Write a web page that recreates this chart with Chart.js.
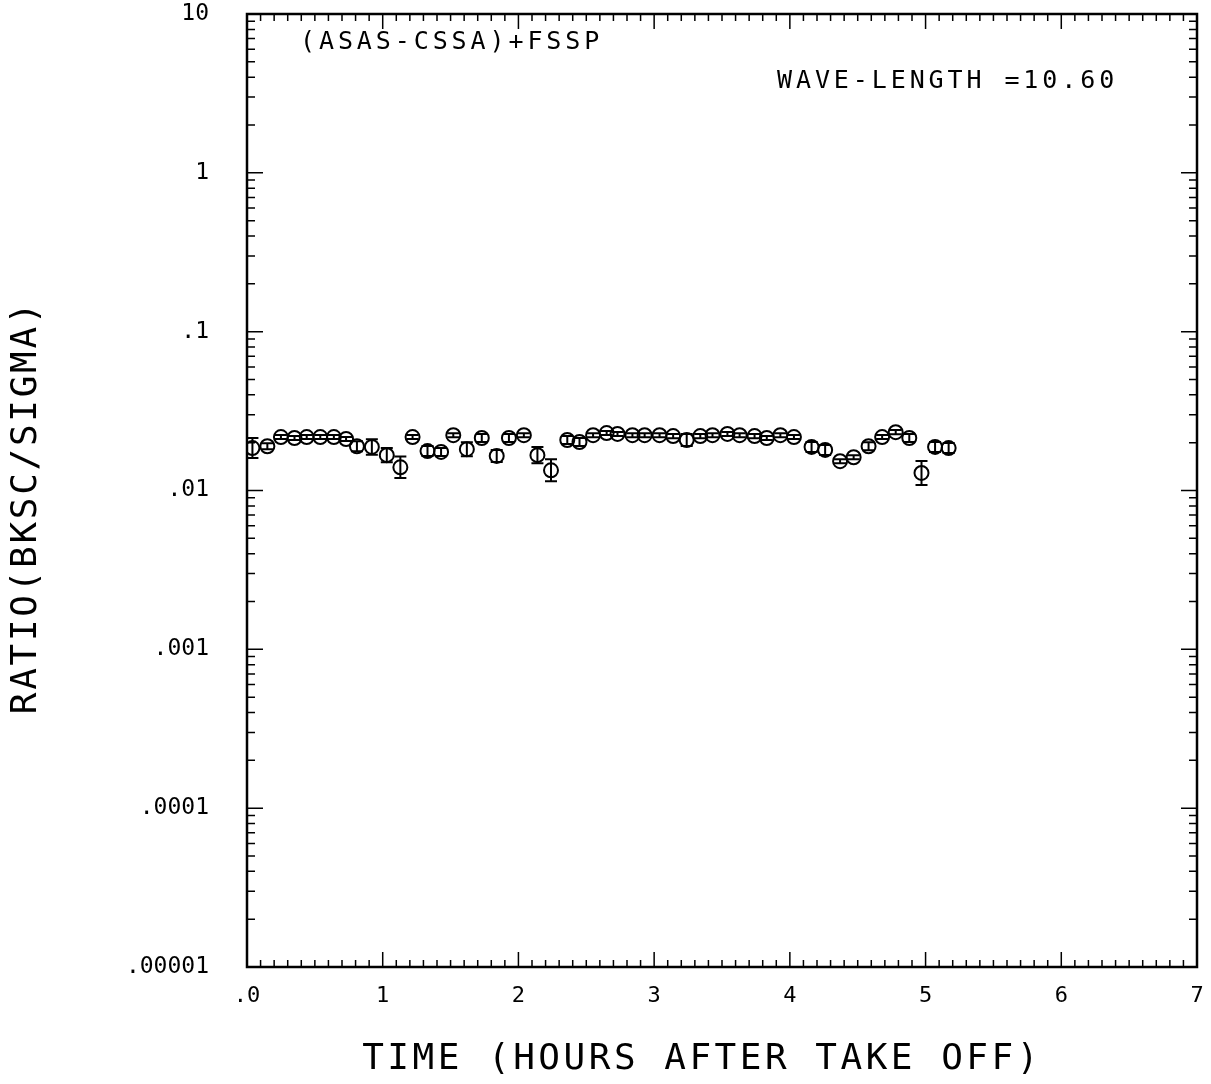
<!DOCTYPE html>
<html>
<head>
<meta charset="utf-8">
<script src="https://cdn.jsdelivr.net/npm/chart.js@4/dist/chart.umd.min.js"></script>
<style>
  html, body { margin: 0; padding: 0; background: #fff; }
  #wrap { width: 1211px; height: 1084px; position: relative; }
</style>
</head>
<body>
<div id="wrap"><canvas id="c"></canvas></div>
<script>
// values (time in hours, backscatter/sigma ratio)
const timeHours = [0.04, 0.15, 0.25, 0.35, 0.44, 0.54, 0.64, 0.73, 0.81, 0.92,
  1.03, 1.13, 1.22, 1.33, 1.43, 1.52, 1.62, 1.73, 1.84, 1.93,
  2.04, 2.14, 2.24, 2.36, 2.45, 2.55, 2.65, 2.73, 2.84, 2.93,
  3.04, 3.14, 3.24, 3.34, 3.43, 3.54, 3.63, 3.74, 3.83, 3.93,
  4.03, 4.16, 4.26, 4.37, 4.47, 4.58, 4.68, 4.78, 4.88, 4.97,
  5.07, 5.17];
const ratio = [0.0185, 0.0190, 0.0217, 0.0214, 0.0217, 0.0217, 0.0217, 0.0211, 0.0190, 0.0188,
  0.0167, 0.0140, 0.0217, 0.0177, 0.0175, 0.0223, 0.0182, 0.0214, 0.0165, 0.0214,
  0.0223, 0.0167, 0.0134, 0.0208, 0.0202, 0.0223, 0.0230, 0.0227, 0.0223, 0.0223,
  0.0223, 0.0220, 0.0208, 0.0220, 0.0223, 0.0227, 0.0223, 0.0220, 0.0214, 0.0223,
  0.0217, 0.0188, 0.0180, 0.0153, 0.0162, 0.0190, 0.0217, 0.0233, 0.0214, 0.0129,
  0.0188, 0.0185];
// multiplicative error bar half-width (upper = v*f, lower = v/f)
const errFactor = [1.156, 1.045, 1.03, 1.03, 1.03, 1.03, 1.03, 1.03, 1.075, 1.12,
  1.11, 1.17, 1.03, 1.075, 1.06, 1.03, 1.107, 1.06, 1.09, 1.06,
  1.03, 1.123, 1.173, 1.06, 1.06, 1.03, 1.03, 1.03, 1.03, 1.03,
  1.03, 1.03, 1.09, 1.03, 1.03, 1.03, 1.03, 1.03, 1.03, 1.03,
  1.03, 1.075, 1.075, 1.03, 1.03, 1.06, 1.03, 1.03, 1.06, 1.19,
  1.075, 1.075];

const xTicks = [0, 1, 2, 3, 4, 5, 6, 7];
const yTicks = [1e-5, 1e-4, 1e-3, 1e-2, 1e-1, 1, 10];
const yTickLabels = ['.00001', '.0001', '.001', '.01', '.1', '1', '10'];

const FONT = "'DejaVu Sans Mono', monospace";

function spacedText(ctx, text, x, y, size, spacing, align) {
  ctx.save();
  ctx.font = size + 'px ' + FONT;
  ctx.letterSpacing = spacing + 'px';
  ctx.fillStyle = '#000';
  ctx.textAlign = align || 'left';
  ctx.textBaseline = 'middle';
  ctx.fillText(text, x, y);
  ctx.restore();
}

const errorBars = {
  id: 'errorBars',
  afterDatasetsDraw(chart) {
    const { ctx, scales: { x, y } } = chart;
    ctx.save();
    ctx.strokeStyle = '#000';
    ctx.lineWidth = 2;
    timeHours.forEach((t, i) => {
      const px = x.getPixelForValue(t);
      const lo = y.getPixelForValue(ratio[i] / errFactor[i]);
      const hi = y.getPixelForValue(ratio[i] * errFactor[i]);
      ctx.beginPath();
      ctx.moveTo(px, lo); ctx.lineTo(px, hi);
      ctx.moveTo(px - 6, lo); ctx.lineTo(px + 6, lo);
      ctx.moveTo(px - 6, hi); ctx.lineTo(px + 6, hi);
      ctx.stroke();
    });
    ctx.restore();
  }
};

// frame, inward tick marks on all four sides, text labels
const frame = {
  id: 'frame',
  afterDraw(chart) {
    const { ctx, chartArea: a, scales: { x, y } } = chart;
    ctx.save();
    ctx.strokeStyle = '#000';
    ctx.lineWidth = 2.5;
    ctx.strokeRect(a.left, a.top, a.right - a.left, a.bottom - a.top);
    ctx.lineWidth = 1.5;
    ctx.beginPath();
    for (let k = 0; k <= 70; k++) {
      const px = x.getPixelForValue(k / 10);
      const len = k % 10 === 0 ? 15 : 7;
      ctx.moveTo(px, a.bottom); ctx.lineTo(px, a.bottom - len);
      ctx.moveTo(px, a.top); ctx.lineTo(px, a.top + len);
    }
    for (let e = -5; e <= 0; e++) {
      for (let m = 1; m <= 10; m++) {
        const py = y.getPixelForValue(m * Math.pow(10, e));
        const len = (m === 1 || m === 10) ? 16 : 8;
        ctx.moveTo(a.left, py); ctx.lineTo(a.left + len, py);
        ctx.moveTo(a.right, py); ctx.lineTo(a.right - len, py);
      }
    }
    ctx.stroke();
    ctx.restore();

    spacedText(ctx, '(ASAS-CSSA)+FSSP', a.left + 53, a.top + 28, 25, 3.9);
    spacedText(ctx, 'WAVE-LENGTH =10.60', a.left + 530, a.top + 67, 25, 3.9);
    spacedText(ctx, 'TIME (HOURS AFTER TAKE OFF)', 702, 1060, 36, 3.5, 'center');
    ctx.save();
    ctx.translate(27, 507);
    ctx.rotate(-Math.PI / 2);
    spacedText(ctx, 'RATIO(BKSC/SIGMA)', 0, 0, 36, 2.7, 'center');
    ctx.restore();
  }
};

new Chart(document.getElementById('c'), {
  type: 'scatter',
  data: {
    datasets: [{
      data: timeHours.map((t, i) => ({ x: t, y: ratio[i] })),
      pointStyle: 'circle',
      pointRadius: 7,
      pointBorderWidth: 2,
      borderColor: '#000',
      backgroundColor: 'rgba(0,0,0,0)',
      pointBackgroundColor: 'rgba(0,0,0,0)'
    }]
  },
  options: {
    responsive: true,
    maintainAspectRatio: false,
    animation: false,
    layout: { padding: { top: 14, right: 14, left: 0, bottom: 0 } },
    plugins: { legend: { display: false }, tooltip: { enabled: false } },
    scales: {
      x: {
        type: 'linear', min: 0, max: 7,
        afterBuildTicks: (s) => { s.ticks = xTicks.map((v) => ({ value: v })); },
        afterFit: (s) => { s.height = 117; s.paddingLeft = 0; s.paddingRight = 0; },
        grid: { display: false },
        border: { display: false },
        ticks: {
          autoSkip: false, maxRotation: 0, padding: 8,
          color: '#000', font: { family: FONT, size: 22 },
          callback: (v) => (v === 0 ? '.0' : String(v))
        }
      },
      y: {
        type: 'logarithmic', min: 1e-5, max: 10,
        afterBuildTicks: (s) => { s.ticks = yTicks.map((v) => ({ value: v })); },
        afterFit: (s) => { s.width = 247; s.paddingTop = 0; s.paddingBottom = 0; },
        grid: { display: false },
        border: { display: false },
        ticks: {
          autoSkip: false, padding: 30,
          color: '#000', font: { family: FONT, size: 23 },
          callback: (v) => {
            const i = yTicks.findIndex((t) => Math.abs(Math.log10(t) - Math.log10(v)) < 1e-6);
            return i >= 0 ? yTickLabels[i] : '';
          }
        }
      }
    }
  },
  plugins: [errorBars, frame]
});
</script>
</body>
</html>
